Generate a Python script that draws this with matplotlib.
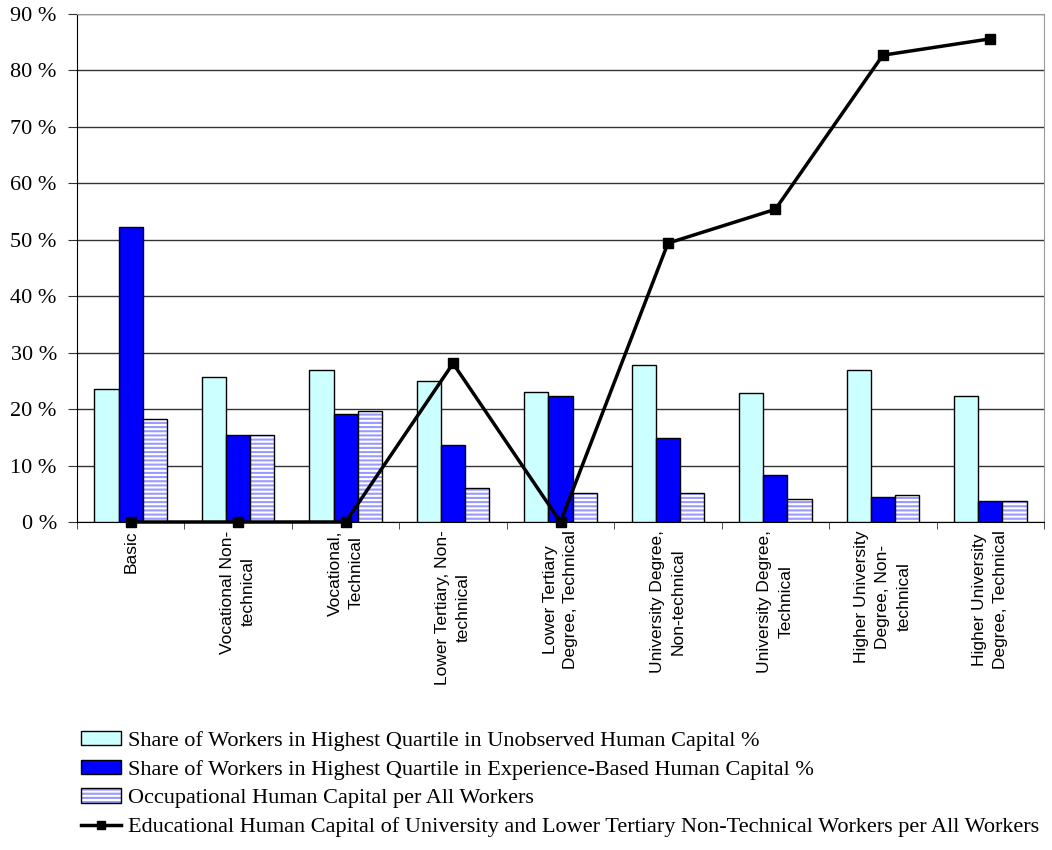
import matplotlib
matplotlib.use("Agg")
import matplotlib.pyplot as plt
import numpy as np
from matplotlib.legend_handler import HandlerTuple
from matplotlib.lines import Line2D

categories = [
    "Basic",
    "Vocational Non-\ntechnical",
    "Vocational,\nTechnical",
    "Lower Tertiary, Non-\ntechnical",
    "Lower Tertiary\nDegree, Technical",
    "University Degree,\nNon-technical",
    "University Degree,\nTechnical",
    "Higher University\nDegree, Non-\ntechnical",
    "Higher University\nDegree, Technical",
]
unobserved = [23.6, 25.7, 27.0, 24.9, 23.1, 27.8, 22.8, 27.0, 22.3]
experience = [52.3, 15.5, 19.1, 13.6, 22.3, 14.8, 8.4, 4.5, 3.7]
occupational = [18.2, 15.5, 19.7, 6.1, 5.1, 5.1, 4.0, 4.8, 3.7]
educational = [0.0, 0.0, 0.0, 28.1, 0.0, 49.4, 55.4, 82.7, 85.6]

labels = [
    "Share of Workers in Highest Quartile in Unobserved Human Capital %",
    "Share of Workers in Highest Quartile in Experience-Based Human Capital %",
    "Occupational Human Capital per All Workers",
    "Educational Human Capital of University and Lower Tertiary Non-Technical Workers per All Workers",
]

serif = "Liberation Serif"
sans = "Liberation Sans"
plt.rcParams["hatch.linewidth"] = 1.5

fig = plt.figure(figsize=(10.52, 8.5), dpi=100)
ax = fig.add_axes([77 / 1052, 1 - 522 / 850, (1044 - 77) / 1052, (522 - 14) / 850])

x = np.arange(len(categories))
w = 0.225

b1 = ax.bar(x - w, unobserved, w, color="#ccffff", edgecolor="black", linewidth=1.0, zorder=3)
b2 = ax.bar(x, experience, w, color="#0000ff", edgecolor="black", linewidth=1.0, zorder=3)
b3h = ax.bar(x + w, occupational, w, color="white", edgecolor="#9999ff", hatch="----",
             linewidth=0, zorder=3)
b3o = ax.bar(x + w, occupational, w, fill=False, edgecolor="black", linewidth=1.0, zorder=3)
ln, = ax.plot(x, educational, color="black", linewidth=2.5, marker="s", markersize=7,
              zorder=4, clip_on=False)

ax.set_xlim(-0.5, len(categories) - 0.5)
ax.set_ylim(0, 90)
ax.set_yticks(np.arange(0, 91, 10))
ax.set_yticklabels([f"{v} %" for v in range(0, 91, 10)], fontfamily=serif, fontsize=16)
ax.yaxis.grid(True, color="#333333", linewidth=1.0, zorder=0)
ax.set_axisbelow(True)

ax.set_xticks(x)
ax.set_xticklabels(categories, rotation=90, fontfamily=sans, fontsize=12.5,
                   ha="center", va="top", multialignment="center", linespacing=1.5)
ax.set_xticks(np.arange(-0.5, len(categories), 1.0), minor=True)
ax.tick_params(axis="x", which="major", length=0, pad=6)
ax.tick_params(axis="x", which="minor", length=5, direction="out", color="#333333")
ax.tick_params(axis="y", length=6.5, direction="out", color="#333333", pad=8)

for side in ["top", "right"]:
    ax.spines[side].set_color("#999999")
ax.spines["left"].set_color("black")
ax.spines["bottom"].set_color("black")

handles = [b1, b2, (b3h, b3o), Line2D([], [], color="black", linewidth=2.5, marker="s", markersize=6)]
fig.legend(handles, labels, loc="upper left", bbox_to_anchor=(72 / 1052, 1 - 722 / 850),
           frameon=False, prop={"family": serif, "size": 16},
           handler_map={tuple: HandlerTuple(ndivide=1, pad=0)},
           handlelength=1.8, handleheight=0.6, handletextpad=0.3, labelspacing=0.4,
           borderaxespad=0)

fig.savefig("out.png", dpi=100)
